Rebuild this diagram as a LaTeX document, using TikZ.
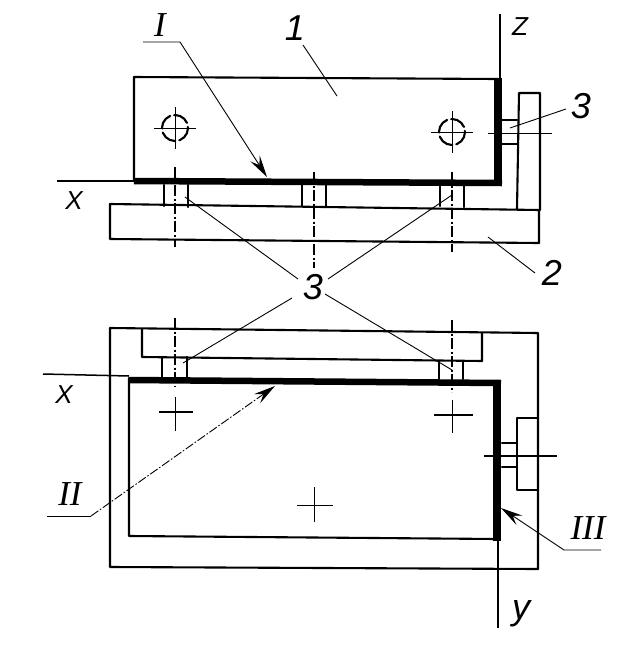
\documentclass[tikz,border=0pt]{standalone}
\usepackage{fontspec}
\setmainfont{Liberation Serif}
\setsansfont{Liberation Sans}
\usetikzlibrary{arrows.meta}
\tikzset{
	wall/.style={line width=2.1pt, line cap=round, line join=round},
	face/.style={line width=6.5pt},
	side face/.style={line width=8.5pt},
	thin line/.style={line width=1pt},
	axis line/.style={line width=1.5pt},
	center line/.style={line width=1.1pt, dash pattern=on 11pt off 2.5pt on 2pt off 2.5pt},
	leader/.style={line width=0.9pt},
	pointer/.style={leader, -{Stealth[length=22pt, width=11pt, inset=8pt]}},
	digit/.style={inner sep=0pt, font=\fontsize{36}{36}\selectfont\sffamily\itshape},
	axis name/.style={inner sep=0pt, font=\fontsize{26}{26}\selectfont\sffamily\itshape},
	axis low/.style={inner sep=0pt, font=\fontsize{36}{36}\selectfont\sffamily\itshape},
	roman/.style={inner sep=0pt, font=\fontsize{35}{35}\selectfont\rmfamily\itshape},
}
\begin{document}
\begin{tikzpicture}[x=1pt, y=-1pt]
	\useasboundingbox (0,0) rectangle (621,646);

	% upper view
	\draw[wall] (134,181) -- (134,77) -- (498,79);
	\draw[wall] (110,204) -- (539,210) -- (539,243) -- (110,239) -- cycle;
	\draw[wall] (517,209) -- (519,93) -- (540,93) -- (540,210);
	\draw[wall] (502,120) -- (517,120) (502,144) -- (517,144);
	\foreach \i/\j in {164/188,302/326,440/464}{
		\draw[wall] (\i,185) -- (\i,206) (\j,185) -- (\j,207);
		}
	\draw[face] (134,181) -- (502,183);
	\draw[side face] (498,78) -- (498,186);
	\draw[axis line] (57,181) -- (134,181);
	\draw[axis line] (500,14) -- (500,79);

	% holes with their centre lines
	\foreach \i/\j in {175/128,452/132}{
		\draw[wall, dash pattern=on 16pt off 4pt] (\i,\j) circle (13);
		\draw[thin line] (\i-21,\j) -- (\i+21,\j) (\i,\j-21) -- (\i,\j+21);
		}
	\draw[center line] (175,167) -- (175,247);
	\draw[center line] (314,172) -- (314,268);
	\draw[center line] (452,172) -- (452,252);
	\draw[thin line] (488,133) -- (552,133);

	% lower view
	\draw[wall] (110,328) -- (538,333) -- (538,569) -- (110,567) -- cycle;
	\draw[wall] (142,329) -- (142,357) -- (482,361) -- (482,333);
	\draw[wall] (129,378) -- (129,536) -- (497,539);
	\draw[wall] (502,443) -- (517,443) (502,467) -- (517,467);
	\draw[wall] (537,418) -- (517,418) -- (517,490) -- (537,490);
	\foreach \i/\j/\k in {162/187/357,439/463/361}{
		\draw[wall] (\i,\k) -- (\i,379) (\j,\k) -- (\j,379);
		}
	\draw[face] (129,380) -- (501,383);
	\draw[side face] (497,380) -- (497,541);
	\draw[axis line] (43,374) -- (129,376);
	\draw[axis line] (498,541) -- (498,628);

	\draw[center line] (175,318) -- (175,387);
	\draw[center line] (452,320) -- (452,392);
	\draw[axis line] (159,412) -- (193,412);
	\draw[thin line] (175,397) -- (175,431);
	\draw[axis line] (434,415) -- (473,415);
	\draw[thin line] (452,400) -- (452,433);
	\draw[thin line] (297,505) -- (333,505) (314,487) -- (314,522);
	\draw[axis line] (484,456) -- (557,456);

	% labels
	\node[digit] (one) at (295,28) {1};
	\node[digit] (two) at (552,273) {2};
	\node[digit] (threeA) at (581,106) {3};
	\node[digit] (threeB) at (313,287) {3};
	\node[axis name] (xA) at (74,201) {X};
	\node[axis name] (xB) at (64,395) {X};
	\node[axis name] (zA) at (520,27) {Z};
	\node[axis low] (yA) at (521,614) {y};
	\node[roman] (romA) at (160,25) {I};
	\node[roman] (romB) at (70,494) {II};
	\node[roman] (romC) at (588,528) {III};

	% leaders
	\draw[leader] (303,45) -- (337,96);
	\draw[leader] (488,237) -- (535,273);
	\draw[leader] (566,109) -- (510,128);
	\draw[leader] (298,279) -- (185,197);
	\draw[leader] (328,279) -- (452,195);
	\draw[leader] (292,298) -- (183,363);
	\draw[leader] (325,294) -- (452,370);
	\draw[pointer] (143,42) -- (180,42) -- (267,177);
	\draw[leader] (47,516) -- (91,516);
	\draw[pointer, dash pattern=on 9pt off 2pt on 1.5pt off 2pt] (91,516) -- (275,386);
	\draw[pointer] (601,550) -- (564,550) -- (501,508);
\end{tikzpicture}
\end{document}
